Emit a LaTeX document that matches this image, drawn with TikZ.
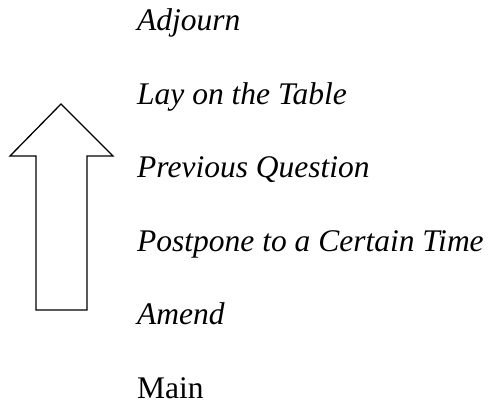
\documentclass[tikz,border=0pt]{standalone}
\usepackage{fontspec}
\setmainfont{Liberation Serif}
\begin{document}
\begin{tikzpicture}[x=1pt,y=-1pt,
  lbl/.style={anchor=base west,inner sep=0pt,font=\fontsize{31.5}{38}\selectfont\itshape},
  arrowline/.style={draw=black,line width=1.3pt,line join=miter}]
\useasboundingbox (0,0) rectangle (495,404);
\coordinate (tip) at (61,104);
\coordinate (hl) at (10,156);
\coordinate (hr) at (113,156);
\coordinate (sl) at (36,156);
\coordinate (sr) at (87,156);
\coordinate (bl) at (36,310);
\coordinate (br) at (87,310);
\draw[arrowline] (tip) -- (hr) -- (sr) -- (br) -- (bl) -- (sl) -- (hl) -- cycle;
\node[lbl] (adj) at (137,31) {Adjourn};
\node[lbl] (lay) at (137,104.4) {Lay on the Table};
\node[lbl] (prev) at (137,177.8) {Previous Question};
\node[lbl] (post) at (137,251.2) {Postpone to a Certain Time};
\node[lbl] (amend) at (137,324.6) {Amend};
\node[lbl,font=\fontsize{31.5}{38}\selectfont\upshape] (main) at (137,398) {Main};
\end{tikzpicture}
\end{document}
